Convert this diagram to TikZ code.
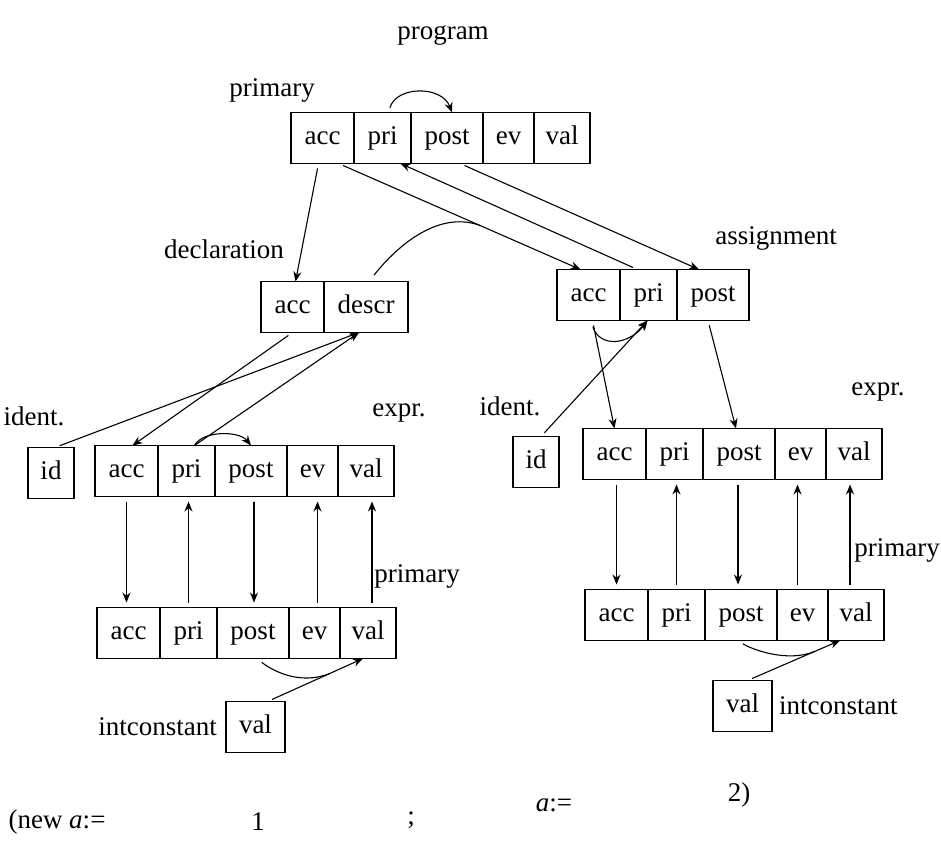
\documentclass[tikz,border=0pt]{standalone}
\usepackage{fontspec}
\setmainfont{Liberation Serif}
\usetikzlibrary{arrows.meta,positioning}

\begin{document}
\begin{tikzpicture}[
  x=1pt, y=-1pt,
  font=\fontsize{27}{32}\selectfont,
  cell/.style={draw, line width=1.4pt, minimum height=51pt, anchor=west,
               inner sep=0pt, outer sep=0pt, text height=19pt, text depth=6pt},
  accf/.style={cell, minimum width=63pt},
  prif/.style={cell, minimum width=57pt},
  postf/.style={cell, minimum width=72pt},
  evf/.style={cell, minimum width=51pt},
  valf/.style={cell, minimum width=56pt},
  descrf/.style={cell, minimum width=84pt},
  idf/.style={cell, minimum width=46pt},
  ivalf/.style={cell, minimum width=59pt},
  lbl/.style={inner sep=1pt},
  arr/.style={-{Stealth[length=10pt,width=8pt]}, line width=1.1pt, shorten <=5pt},
  vlink/.style={arr, shorten >=5pt},
  link/.style={line width=1.1pt, shorten <=6pt},
]

\useasboundingbox (0,0) rectangle (941,846);

%% ---- program / primary (oben) ----
\node[lbl] (tprog) at (443,35) {program};
\node[lbl] (tprim) at (272,90) {primary};
\node[accf] (pacc) at (291,138) {acc};
\node[prif, right=0pt of pacc] (ppri) {pri};
\node[postf, right=0pt of ppri] (ppost) {post};
\node[evf, right=0pt of ppost] (pev) {ev};
\node[valf, right=0pt of pev] (pval) {val};

%% ---- declaration ----
\node[lbl] (tdecl) at (224,249) {declaration};
\node[accf] (dacc) at (261,307) {acc};
\node[descrf, right=0pt of dacc] (ddescr) {descr};

%% ---- assignment ----
\node[lbl] (tasg) at (776,238) {assignment};
\node[accf] (aacc) at (557,295) {acc};
\node[prif, right=0pt of aacc] (apri) {pri};
\node[postf, right=0pt of apri] (apost) {post};

%% ---- linker Teilbaum ----
\node[lbl] (tidl) at (34,416) {ident.};
\node[idf] (lid) at (28,473) {id};
\node[lbl] (texl) at (399,413) {expr.};
\node[accf] (lxacc) at (95,471) {acc};
\node[prif, right=0pt of lxacc] (lxpri) {pri};
\node[postf, right=0pt of lxpri] (lxpost) {post};
\node[evf, right=0pt of lxpost] (lxev) {ev};
\node[valf, right=0pt of lxev] (lxval) {val};

\node[lbl] (tprl) at (417,576) {primary};
\node[accf] (lpacc) at (97,633) {acc};
\node[prif, right=0pt of lpacc] (lppri) {pri};
\node[postf, right=0pt of lppri] (lppost) {post};
\node[evf, right=0pt of lppost] (lpev) {ev};
\node[valf, right=0pt of lpev] (lpval) {val};

\node[ivalf] (lic) at (226,727) {val};
\node[lbl, left=8pt of lic] (ticl) {intconstant};

%% ---- rechter Teilbaum ----
\node[lbl] (tidr) at (510,406) {ident.};
\node[idf] (rid) at (513,462) {id};
\node[lbl] (texr) at (878,392) {expr.};
\node[accf] (rxacc) at (583,454) {acc};
\node[prif, right=0pt of rxacc] (rxpri) {pri};
\node[postf, right=0pt of rxpri] (rxpost) {post};
\node[evf, right=0pt of rxpost] (rxev) {ev};
\node[valf, right=0pt of rxev] (rxval) {val};

\node[lbl] (tprr) at (897,550) {primary};
\node[accf] (rpacc) at (585,615) {acc};
\node[prif, right=0pt of rpacc] (rppri) {pri};
\node[postf, right=0pt of rppri] (rppost) {post};
\node[evf, right=0pt of rppost] (rpev) {ev};
\node[valf, right=0pt of rpev] (rpval) {val};

\node[ivalf] (ric) at (713,706) {val};
\node[lbl, right=6pt of ric] (ticr) {intconstant};

%% ---- Quelltext ----
\node[lbl] (snew) at (57,822) {(new \textit{a}:=};
\node[lbl] (sone) at (258,822) {1};
\node[lbl] (ssemi) at (411,820) {;};
\node[lbl] (sasg) at (554,805) {\textit{a}:=};
\node[lbl] (stwo) at (739,795) {2)};

%% ---- Pfeile oben ----
\draw[arr] ([xshift=6pt]ppri.north) .. controls +(8,-27) and +(-10,-27) .. ([xshift=5pt]ppost.north);
\draw[arr] ([xshift=-4pt]pacc.south) -- ([xshift=3pt]dacc.north);
\draw[arr] ([xshift=16pt]pacc.south) -- coordinate[pos=0.585] (dmeet) ([xshift=-8pt]aacc.north);
\draw[arr] ([xshift=-11pt]apri.north) -- ([xshift=18pt]ppri.south);
\draw[arr] ([xshift=13pt]ppost.south) -- ([xshift=-14pt]apost.north);
\draw[link, shorten <=8pt] ([xshift=3pt]ddescr.north) .. controls +(30,-38) and +(-40,-15) .. (dmeet);

%% ---- Pfeile links ----
\coordinate (dsin) at ([xshift=-7pt]ddescr.south);
\draw[arr] (dacc.south) -- ([xshift=6pt]lxacc.north);
\draw[arr] ([xshift=4pt]lid.north) -- (dsin);
\draw[arr, shorten <=0pt] ([xshift=8pt]lxpri.north) -- (dsin);
\draw[arr, shorten <=0pt] ([xshift=8pt]lxpri.north) .. controls +(8,-15) and +(-12,-15) .. (lxpost.north);

\draw[vlink] (lxacc.south) -- (lxacc.south |- lpacc.north);
\draw[vlink] ([xshift=2pt]lxpri.south |- lppri.north) -- ([xshift=2pt]lxpri.south);
\draw[vlink] ([xshift=3pt]lxpost.south) -- ([xshift=3pt]lxpost.south |- lppost.north);
\draw[vlink] ([xshift=5pt]lxev.south |- lpev.north) -- ([xshift=5pt]lxev.south);
\draw[vlink] ([xshift=6pt]lxval.south |- lpval.north) -- ([xshift=6pt]lxval.south);

\draw[arr] ([xshift=12pt]lic.north) -- coordinate[pos=0.65] (lmeet) ([xshift=-5pt]lpval.south);
\draw[link] ([xshift=4pt]lppost.south) .. controls +(15,12) and +(-30,12) .. (lmeet);

%% ---- Pfeile rechts ----
\coordinate (apin) at ([xshift=-1pt]apri.south);
\draw[arr, shorten <=7pt] ([xshift=2pt]aacc.south) .. controls +(10,28) and +(-18,24) .. (apin);
\draw[arr] ([xshift=4pt]aacc.south) -- (rxacc.north);
\draw[arr] ([xshift=5pt]rid.north) -- (apin);
\draw[arr] ([xshift=-5pt]apost.south) -- ([xshift=-3pt]rxpost.north);

\draw[vlink] ([xshift=2pt]rxacc.south) -- ([xshift=2pt]rxacc.south |- rpacc.north);
\draw[vlink] ([xshift=2pt]rxpri.south |- rppri.north) -- ([xshift=2pt]rxpri.south);
\draw[vlink] ([xshift=-1pt]rxpost.south) -- ([xshift=-1pt]rxpost.south |- rppost.north);
\draw[vlink] ([xshift=-3pt]rxev.south |- rpev.north) -- ([xshift=-3pt]rxev.south);
\draw[vlink] ([xshift=-4pt]rxval.south |- rpval.north) -- ([xshift=-4pt]rxval.south);

\draw[arr] ([xshift=5pt]ric.north) -- coordinate[pos=0.73] (rmeet) ([xshift=-16pt]rpval.south);
\draw[link] ([xshift=-3pt]rppost.south) .. controls +(12,8) and +(-28,12) .. (rmeet);

\end{tikzpicture}
\end{document}
